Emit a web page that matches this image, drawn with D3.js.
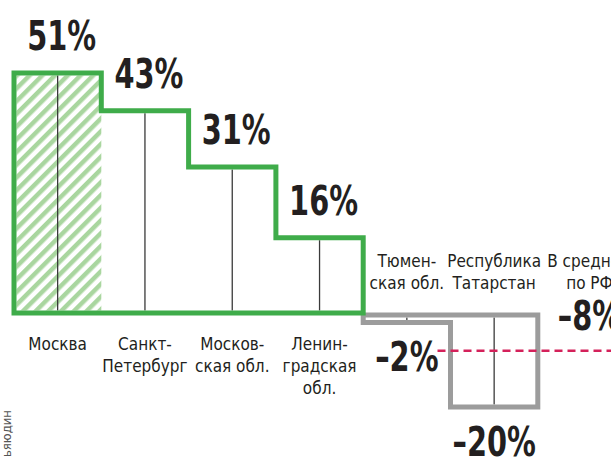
<!DOCTYPE html>
<html>
<head>
<meta charset="utf-8">
<script src="https://cdn.jsdelivr.net/npm/d3@7"></script>
<style>
  body { margin: 0; background: #fff; }
  svg { display: block; }
  .val { font-family: "DejaVu Sans Condensed", "Liberation Sans Narrow", "DejaVu Sans", sans-serif; font-stretch: condensed; font-weight: bold; font-size: 40px; fill: #231f20; }
  .cat { font-family: "DejaVu Sans Condensed", "Liberation Sans Narrow", "DejaVu Sans", sans-serif; font-stretch: condensed; font-size: 17px; fill: #231f20; }
  .credit { font-family: "DejaVu Sans Condensed", "DejaVu Sans", sans-serif; font-stretch: condensed; font-size: 13px; fill: #555; }
</style>
</head>
<body>
<div id="chart"></div>
<script>
var regions = ["Москва", "Санкт-Петербург", "Московская обл.", "Ленинградская обл.", "Тюменская обл.", "Республика Татарстан"];
var values = [51, 43, 31, 16, -2, -20];
var labelLines = [["Москва"], ["Санкт-", "Петербург"], ["Москов-", "ская обл."], ["Ленин-", "градская", "обл."], ["Тюмен-", "ская обл."], ["Республика", "Татарстан"]];
var avgName = "В среднем по РФ";
var avgLines = ["В среднем", "по РФ"];
var avgValue = -8;

var width = 611, height = 459;
var green = "#3fac4a", hatchGreen = "#a9d69f", grey = "#9c9c9c", red = "#d4215a";

var svg = d3.select("#chart").append("svg")
    .attr("width", width)
    .attr("height", height);

var x = d3.scaleBand()
    .domain(regions.concat([avgName]))
    .range([14, 14 + 87.3 * 7])
    .padding(0);
var bw = x.bandwidth();

var y = d3.scaleLinear()
    .domain([0, 51])
    .range([313, 73]);
var y0 = y(0);

var data = regions.map(function(r, i) { return {name: r, value: values[i], lines: labelLines[i]}; });
var pos = data.filter(function(d) { return d.value >= 0; });
var neg = data.filter(function(d) { return d.value < 0; });

// hatch pattern for Moscow
var defs = svg.append("defs");
defs.append("pattern")
    .attr("id", "hatch")
    .attr("patternUnits", "userSpaceOnUse")
    .attr("width", 9)
    .attr("height", 9)
    .attr("patternTransform", "rotate(45)")
    .append("rect")
    .attr("width", 4.5)
    .attr("height", 9)
    .attr("fill", hatchGreen);

svg.append("rect")
    .attr("x", x(pos[0].name) + 2.5)
    .attr("y", y(pos[0].value) + 2.5)
    .attr("width", bw - 2.5)
    .attr("height", y0 - y(pos[0].value) - 5)
    .attr("fill", "url(#hatch)");

// step outline: left edge up, tops across, right edge down
function stepPoints(set, base) {
    var pts = [[x(set[0].name), base]];
    set.forEach(function(d) {
        pts.push([x(d.name), y(d.value)]);
        pts.push([x(d.name) + bw, y(d.value)]);
    });
    pts.push([x(set[set.length - 1].name) + bw, base]);
    return pts;
}
var line = d3.line();

// center lines
svg.selectAll("line.mid")
    .data(data)
    .enter()
    .append("line")
    .attr("class", "mid")
    .attr("x1", function(d) { return x(d.name) + bw / 2; })
    .attr("x2", function(d) { return x(d.name) + bw / 2; })
    .attr("y1", function(d) { return d.value >= 0 ? y(d.value) + 2.5 : y0 + 4.5; })
    .attr("y2", function(d) { return d.value >= 0 ? y0 - 2.5 : y(d.value) - 2.5; })
    .attr("stroke", "#3a3a3a")
    .attr("stroke-width", 1.3);

svg.append("path")
    .attr("d", line(stepPoints(neg, y0 + 2)) + "Z")
    .attr("fill", "none")
    .attr("stroke", grey)
    .attr("stroke-width", 5);

svg.append("path")
    .attr("d", line(stepPoints(pos, y0)) + "Z")
    .attr("fill", "none")
    .attr("stroke", green)
    .attr("stroke-width", 5);

// average line
svg.append("line")
    .attr("x1", x(neg[neg.length - 1].name) - 13)
    .attr("x2", width)
    .attr("y1", y(avgValue))
    .attr("y2", y(avgValue))
    .attr("stroke", red)
    .attr("stroke-width", 2.5)
    .attr("stroke-dasharray", "8,5");

function pct(v) { return (v < 0 ? "\u2013" + Math.abs(v) : v) + "%"; }

// value labels (condensed horizontally like the original type)
svg.selectAll("text.val")
    .data(data)
    .enter()
    .append("text")
    .attr("class", "val")
    .attr("text-anchor", "middle")
    .attr("transform", function(d) {
        var cx = x(d.name) + bw / 2 + (d.value >= 0 ? 4 : 0);
        var cy = d.value >= 0 ? y(d.value) - 23 : y(d.value) + 49;
        return "translate(" + cx + "," + cy + ") scale(0.8,1)";
    })
    .text(function(d) { return pct(d.value); });

svg.append("text")
    .attr("class", "val")
    .attr("text-anchor", "middle")
    .attr("transform", "translate(" + (x(avgName) + bw / 2 + 8) + "," + (y(avgValue) - 21) + ") scale(0.8,1)")
    .text(pct(avgValue));

// category labels
var cats = svg.selectAll("text.cat")
    .data(data.concat([{name: avgName, value: avgValue, lines: avgLines}]))
    .enter()
    .append("text")
    .attr("class", "cat")
    .attr("text-anchor", "middle")
    .attr("transform", function(d) {
        var cx = x(d.name) + bw / 2 + (d.name === avgName ? 8 : 0);
        var by = d.value >= 0 ? y0 + 37 : y0 - 24 - 22 * (d.lines.length - 1);
        return "translate(" + cx + "," + by + ")";
    });
cats.selectAll("tspan")
    .data(function(d) { return d.lines; })
    .enter()
    .append("tspan")
    .attr("x", 0)
    .attr("y", function(d, i) { return i * 22; })
    .text(function(d) { return d; });

// credit
svg.append("text")
    .attr("class", "credit")
    .attr("text-anchor", "end")
    .attr("transform", "translate(11,410) rotate(-90)")
    .text("ьяюдин");
</script>
</body>
</html>
